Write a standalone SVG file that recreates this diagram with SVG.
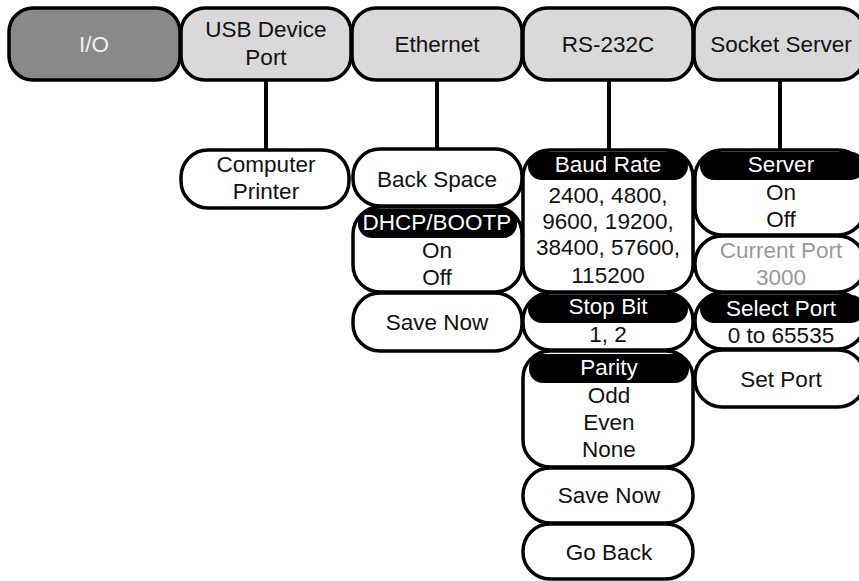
<svg xmlns="http://www.w3.org/2000/svg" width="859" height="581" viewBox="0 0 859 581">
<style>
  .t{font-family:"Liberation Sans",Arial,sans-serif;font-size:22.5px;text-anchor:middle;fill:#111}
  .w{fill:#fff}
  .g{fill:#9a9a9a}
  .top{fill:#d9d9d9;stroke:#000;stroke-width:3.5}
  .io{fill:#898989;stroke:#000;stroke-width:3.5}
  .box{fill:#fff;stroke:#000;stroke-width:3.5}
  .hdr{fill:#000}
  .con{stroke:#000;stroke-width:4;fill:none}
</style>
<rect width="859" height="581" fill="#fff"/>
<g id="connectors">
  <line class="con" x1="266" y1="78" x2="266" y2="152"/>
  <line class="con" x1="437" y1="78" x2="437" y2="151"/>
  <line class="con" x1="609" y1="78" x2="609" y2="152"/>
  <line class="con" x1="780" y1="78" x2="780" y2="152"/>
</g>
<g id="io"><rect class="io" x="9" y="8" width="171" height="72" rx="24"/><text class="t" x="94" y="52" fill="#f2f2f2" style="fill:#f2f2f2">I/O</text></g>
<g id="usb"><rect class="top" x="181" y="8" width="170" height="72" rx="24"/><text class="t" x="266" y="37">USB Device</text><text class="t" x="266" y="65">Port</text></g>
<g id="ethernet"><rect class="top" x="352" y="8" width="170" height="72" rx="24"/><text class="t" x="437" y="52">Ethernet</text></g>
<g id="rs232c"><rect class="top" x="523" y="8" width="170" height="72" rx="24"/><text class="t" x="608" y="52">RS-232C</text></g>
<g id="socket"><rect class="top" x="694" y="8" width="170" height="72" rx="24"/><text class="t" x="781" y="52">Socket Server</text></g>

<g id="computer-printer"><rect class="box" x="181" y="150" width="168" height="58" rx="27"/><text class="t" x="266" y="172">Computer</text><text class="t" x="266" y="199">Printer</text></g>

<g id="back-space"><rect class="box" x="353" y="149" width="169" height="57" rx="27"/><text class="t" x="437" y="187">Back Space</text></g>
<g id="dhcp"><rect class="box" x="353" y="207" width="169" height="85" rx="27"/><rect class="hdr" x="358" y="209" width="159" height="29" rx="14"/><text class="t w" x="437" y="230">DHCP/BOOTP</text><text class="t" x="437" y="258">On</text><text class="t" x="437" y="285">Off</text></g>
<g id="eth-save"><rect class="box" x="353" y="293" width="169" height="58" rx="27"/><text class="t" x="437" y="330">Save Now</text></g>

<g id="baud"><rect class="box" x="523" y="150" width="170" height="142" rx="27"/><rect class="hdr" x="528" y="152" width="160" height="28" rx="14"/><text class="t w" x="608" y="172">Baud Rate</text><text class="t" x="608" y="203">2400, 4800,</text><text class="t" x="608" y="229">9600, 19200,</text><text class="t" x="608" y="255">38400, 57600,</text><text class="t" x="608" y="283">115200</text></g>
<g id="stopbit"><rect class="box" x="523" y="293" width="170" height="57" rx="27"/><rect class="hdr" x="528" y="295" width="160" height="28" rx="14"/><text class="t w" x="608" y="314">Stop Bit</text><text class="t" x="608" y="342">1, 2</text></g>
<g id="parity"><rect class="box" x="523" y="351" width="170" height="116" rx="27"/><rect class="hdr" x="529" y="354" width="160" height="29" rx="14"/><text class="t w" x="609" y="375">Parity</text><text class="t" x="609" y="403">Odd</text><text class="t" x="609" y="430">Even</text><text class="t" x="609" y="457">None</text></g>
<g id="rs-save"><rect class="box" x="523" y="468" width="170" height="55" rx="27"/><text class="t" x="609" y="503">Save Now</text></g>
<g id="goback"><rect class="box" x="523" y="524" width="170" height="55" rx="27"/><text class="t" x="609" y="560">Go Back</text></g>

<g id="server"><rect class="box" x="695" y="150" width="170" height="85" rx="27"/><rect class="hdr" x="700" y="152" width="165" height="28" rx="14"/><text class="t w" x="781" y="172">Server</text><text class="t" x="781" y="200">On</text><text class="t" x="781" y="227">Off</text></g>
<g id="current-port"><rect class="box" x="695" y="236" width="170" height="56" rx="27"/><text class="t g" x="781" y="258">Current Port</text><text class="t g" x="781" y="285">3000</text></g>
<g id="select-port"><rect class="box" x="695" y="293" width="170" height="56" rx="27"/><rect class="hdr" x="700" y="295" width="165" height="28" rx="14"/><text class="t w" x="781" y="316">Select Port</text><text class="t" x="781" y="343">0 to 65535</text></g>
<g id="set-port"><rect class="box" x="695" y="350" width="170" height="57" rx="27"/><text class="t" x="781" y="387">Set Port</text></g>
</svg>
